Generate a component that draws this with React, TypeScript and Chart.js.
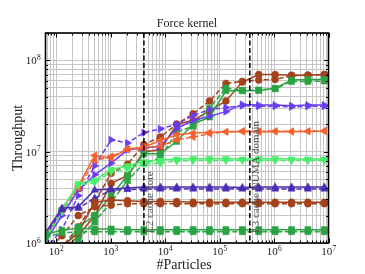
import React, { useEffect, useRef } from "react";
import { Chart, registerables } from "chart.js";
Chart.register(...registerables);

// ---------------- data ----------------
const particles = [64, 128, 256, 512, 1024, 2048, 4096, 8192, 16384, 32768, 65536, 131072, 262144, 524288, 1048576, 2097152, 4194304, 8388608];

const orangeSolid = [1.2e6, 2.4e6, 4.2e6, 9.1e6, 8.5e6, 1.08e7, 1.12e7, 1.33e7, 1.53e7, 1.6e7, 1.63e7, 1.66e7, 1.67e7, 1.66e7, 1.67e7, 1.66e7, 1.67e7, 1.68e7];
const orangeDashed = [1.1e6, 2.2e6, 4.0e6, 8.0e6, 8.9e6, 1.05e7, 1.1e7, 1.15e7, 1.35e7, 1.45e7, 1.58e7, 1.65e7, 1.68e7, 1.67e7, 1.68e7, 1.67e7, 1.68e7, 1.7e7];
const violetSolid = [1.05e6, 2.0e6, 3.8e6, 5.6e6, 7.5e6, 1.05e7, 1.1e7, 1.15e7, 1.8e7, 2.2e7, 2.45e7, 2.75e7, 3.3e7, 3.25e7, 3.25e7, 3.2e7, 3.25e7, 3.25e7];
const violetDashed = [0.85e6, 1.4e6, 3.3e6, 7.0e6, 1.35e7, 1.25e7, 1.62e7, 1.78e7, 2.0e7, 2.5e7, 2.9e7, 3.05e7, 3.2e7, 3.15e7, 3.15e7, 3.1e7, 3.15e7, 3.15e7];
const lightGreenSolid = [1.15e6, 2.3e6, 4.5e6, 4.9e6, 6.4e6, 7.0e6, 7.8e6, 8.1e6, 8.3e6, 8.4e6, 8.4e6, 8.4e6, 8.3e6, 8.4e6, 8.4e6, 8.3e6, 8.3e6, 8.3e6];
const lightGreenDashed = [1.1e6, 2.2e6, 4.3e6, 4.6e6, 6.0e6, 6.5e6, 7.3e6, 7.5e6, 7.9e6, 8.0e6, 8.0e6, 8.0e6, 8.0e6, 8.0e6, 8.0e6, 8.0e6, 8.0e6, 8.0e6];
const indigoSolid = [1.3e6, 2.4e6, 2.5e6, 3.8e6, 3.9e6, 4.0e6, 4.1e6, 4.1e6, 4.1e6, 4.1e6, 4.1e6, 4.1e6, 4.05e6, 4.1e6, 4.1e6, 4.1e6, 4.1e6, 4.1e6];
const indigoDashed = [1.2e6, 2.3e6, 2.4e6, 3.1e6, 3.8e6, 3.85e6, 3.9e6, 3.9e6, 3.9e6, 3.9e6, 3.9e6, 3.9e6, 3.9e6, 3.9e6, 3.9e6, 3.9e6, 3.9e6, 3.9e6];
const brownLowSolid = [0.6e6, 0.9e6, 1.3e6, 2.8e6, 2.95e6, 2.9e6, 2.85e6, 2.85e6, 2.85e6, 2.8e6, 2.8e6, 2.8e6, 2.8e6, 2.8e6, 2.8e6, 2.8e6, 2.8e6, 2.8e6];
const brownLowDashed = [0.8e6, 1.2e6, 2.0e6, 2.5e6, 2.6e6, 2.7e6, 2.7e6, 2.7e6, 2.7e6, 2.7e6, 2.7e6, 2.7e6, 2.7e6, 2.7e6, 2.7e6, 2.7e6, 2.7e6, 2.7e6];
const brownHighSolid = [0.5e6, 0.8e6, 1.2e6, 2.0e6, 4.5e6, 5.5e6, 1.0e7, 1.05e7, 2.0e7, 2.2e7, 2.8e7, 3.6e7, 5.8e7, 7.0e7, 7.0e7, 6.9e7, 6.9e7, 7.0e7];
const brownHighDashed = [0.55e6, 0.9e6, 1.5e6, 2.8e6, 5.8e6, 7.3e6, 1.2e7, 1.45e7, 2.0e7, 2.6e7, 3.6e7, 5.6e7, 5.9e7, 6.1e7, 6.2e7, 6.8e7, 6.9e7, 7.0e7];
const greenHighSolid = [0.55e6, 0.8e6, 1.5e6, 2.0e6, 3.3e6, 5.5e6, 9.5e6, 9.5e6, 1.3e7, 2.0e7, 2.4e7, 4.65e7, 4.65e7, 4.7e7, 4.95e7, 6.1e7, 6.2e7, 6.2e7];
const greenHighDashed = [0.5e6, 0.7e6, 1.1e6, 1.7e6, 2.8e6, 4.8e6, 7.5e6, 8.5e6, 1.65e7, 1.9e7, 3.0e7, 5.0e7, 4.7e7, 4.75e7, 4.9e7, 5.9e7, 5.9e7, 5.95e7];
const greenLowSolid = [1.25e6, 1.38e6, 1.45e6, 1.42e6, 1.42e6, 1.4e6, 1.4e6, 1.4e6, 1.4e6, 1.4e6, 1.4e6, 1.4e6, 1.4e6, 1.4e6, 1.4e6, 1.4e6, 1.4e6, 1.4e6];
const greenLowDashed = [1.15e6, 1.3e6, 1.32e6, 1.33e6, 1.33e6, 1.33e6, 1.33e6, 1.33e6, 1.33e6, 1.33e6, 1.33e6, 1.33e6, 1.33e6, 1.33e6, 1.33e6, 1.33e6, 1.33e6, 1.33e6];

const cacheBoundaries = [4096, 360000];
const cacheLabels = ["L2 cache core", "L3 cache NUMA domain"];

const xMajorTicks = [1e2, 1e3, 1e4, 1e5, 1e6, 1e7];
const xTickExponents = ["2", "3", "4", "5", "6", "7"];
const yMajorTicks = [1e6, 1e7, 1e8];
const yTickExponents = ["6", "7", "8"];

const titleText = "Force kernel";
const xLabel = "#Particles";
const yLabel = "Throughput";

// ---------------- styles ----------------
const COLORS = {
  orange: "#f7612e",
  violet: "#6b3cf2",
  lightGreen: "#45ef6a",
  indigo: "#4a2db5",
  brown: "#a4421c",
  green: "#2aa343",
};

type Spec = { data: number[]; color: string; marker: string; rot: number; dashed: boolean };
const specs: Spec[] = [
  { data: greenLowSolid, color: COLORS.green, marker: "rect", rot: 0, dashed: false },
  { data: greenLowDashed, color: COLORS.green, marker: "rect", rot: 0, dashed: true },
  { data: brownLowSolid, color: COLORS.brown, marker: "circle", rot: 0, dashed: false },
  { data: brownLowDashed, color: COLORS.brown, marker: "circle", rot: 0, dashed: true },
  { data: indigoSolid, color: COLORS.indigo, marker: "triangle", rot: 0, dashed: false },
  { data: indigoDashed, color: COLORS.indigo, marker: "triangle", rot: 0, dashed: true },
  { data: lightGreenSolid, color: COLORS.lightGreen, marker: "triangle", rot: 180, dashed: false },
  { data: lightGreenDashed, color: COLORS.lightGreen, marker: "triangle", rot: 180, dashed: true },
  { data: orangeSolid, color: COLORS.orange, marker: "triangle", rot: 270, dashed: false },
  { data: orangeDashed, color: COLORS.orange, marker: "triangle", rot: 270, dashed: true },
  { data: violetSolid, color: COLORS.violet, marker: "triangle", rot: 90, dashed: false },
  { data: violetDashed, color: COLORS.violet, marker: "triangle", rot: 90, dashed: true },
  { data: greenHighSolid, color: COLORS.green, marker: "rect", rot: 0, dashed: false },
  { data: greenHighDashed, color: COLORS.green, marker: "rect", rot: 0, dashed: true },
  { data: brownHighSolid, color: COLORS.brown, marker: "circle", rot: 0, dashed: false },
  { data: brownHighDashed, color: COLORS.brown, marker: "circle", rot: 0, dashed: true },
];

const SERIF = '"Liberation Serif", "DejaVu Serif", serif';

function logTicks(min: number, max: number): number[] {
  const out: number[] = [];
  for (let e = Math.floor(Math.log10(min)); e <= Math.ceil(Math.log10(max)); e++) {
    for (let m = 1; m <= 9; m++) {
      const v = m * Math.pow(10, e);
      if (v >= min * 0.9999 && v <= max * 1.0001) out.push(v);
    }
  }
  return out;
}
const isPow10 = (v: number) => Math.abs(Math.log10(v) - Math.round(Math.log10(v))) < 1e-9;

function drawPow(ctx: CanvasRenderingContext2D, exp: string, x: number, y: number, align: "right" | "center") {
  ctx.font = `11px ${SERIF}`;
  const w1 = ctx.measureText("10").width;
  ctx.font = `7.5px ${SERIF}`;
  const w2 = ctx.measureText(exp).width;
  const total = w1 + w2;
  const left = align === "right" ? x - total : x - total / 2;
  ctx.textAlign = "left";
  ctx.textBaseline = "alphabetic";
  ctx.font = `11px ${SERIF}`;
  ctx.fillText("10", left, y + 4);
  ctx.font = `7.5px ${SERIF}`;
  ctx.fillText(exp, left + w1 + 0.3, y - 0.5);
}

const decor = {
  id: "decor",
  afterDatasetsDraw(chart: any) {
    const { ctx, chartArea: a, scales } = chart;
    const xs = scales.x;
    const ys = scales.y;
    ctx.save();
    // cache boundary lines
    ctx.strokeStyle = "#000";
    ctx.lineWidth = 1.5;
    ctx.setLineDash([5, 2.5]);
    cacheBoundaries.forEach((b) => {
      const px = xs.getPixelForValue(b);
      ctx.beginPath();
      ctx.moveTo(px, a.top);
      ctx.lineTo(px, a.bottom);
      ctx.stroke();
    });
    ctx.setLineDash([]);
    // annotations
    ctx.fillStyle = "#505050";
    ctx.font = `11px ${SERIF}`;
    ctx.textAlign = "left";
    ctx.textBaseline = "middle";
    cacheBoundaries.forEach((b, i) => {
      const px = xs.getPixelForValue(b) + 6.5;
      ctx.save();
      ctx.translate(px, a.bottom - 10);
      ctx.rotate(-Math.PI / 2);
      ctx.fillText(cacheLabels[i], 0, 0);
      ctx.restore();
    });
    // frame
    ctx.strokeStyle = "#000";
    ctx.lineWidth = 1.6;
    ctx.strokeRect(a.left, a.top, a.right - a.left, a.bottom - a.top);
    // tick marks (inward, all sides)
    ctx.lineWidth = 1;
    xs.ticks.forEach((t: any) => {
      const px = Math.round(xs.getPixelForValue(t.value)) + 0.5;
      const len = isPow10(t.value) ? 4.5 : 2.5;
      ctx.beginPath();
      ctx.moveTo(px, a.bottom);
      ctx.lineTo(px, a.bottom - len);
      ctx.moveTo(px, a.top);
      ctx.lineTo(px, a.top + len);
      ctx.stroke();
    });
    ys.ticks.forEach((t: any) => {
      const py = Math.round(ys.getPixelForValue(t.value)) + 0.5;
      const len = isPow10(t.value) ? 4.5 : 2.5;
      ctx.beginPath();
      ctx.moveTo(a.left, py);
      ctx.lineTo(a.left + len, py);
      ctx.moveTo(a.right, py);
      ctx.lineTo(a.right - len, py);
      ctx.stroke();
    });
    // tick labels
    ctx.fillStyle = "#222";
    xMajorTicks.forEach((v, i) => {
      drawPow(ctx, xTickExponents[i], xs.getPixelForValue(v), a.bottom + 8, "center");
    });
    yMajorTicks.forEach((v, i) => {
      drawPow(ctx, yTickExponents[i], a.left - 5, ys.getPixelForValue(v), "right");
    });
    // titles
    ctx.fillStyle = "#222";
    ctx.textAlign = "center";
    ctx.textBaseline = "middle";
    ctx.font = `12px ${SERIF}`;
    ctx.fillText(titleText, (a.left + a.right) / 2, 24);
    ctx.font = `14px ${SERIF}`;
    ctx.fillText(xLabel, (a.left + a.right) / 2 - 3, 265);
    ctx.save();
    ctx.translate(18, (a.top + a.bottom) / 2);
    ctx.rotate(-Math.PI / 2);
    ctx.fillText(yLabel, 0, 0);
    ctx.restore();
    ctx.restore();
  },
};

export default function App() {
  const ref = useRef<HTMLCanvasElement>(null);
  useEffect(() => {
    const xTickVals = logTicks(64, 1e7);
    const yTickVals = logTicks(1e6, 2e8);
    const chart = new Chart(ref.current!, {
      type: "line",
      data: {
        datasets: specs.map((s) => ({
          data: s.data.map((y, i) => ({ x: particles[i], y })),
          borderColor: s.color,
          backgroundColor: s.color,
          borderWidth: 1.5,
          borderDash: s.dashed ? [5, 2.5] : [],
          pointStyle: s.marker as any,
          pointRotation: s.rot,
          pointRadius: s.marker === "rect" ? 4.3 : s.marker === "circle" ? 3.5 : 4.2,
          pointBorderWidth: 0.5,
          pointBackgroundColor: s.color,
          pointBorderColor: s.color,
          tension: 0,
          fill: false,
        })),
      },
      options: {
        animation: false,
        responsive: false,
        maintainAspectRatio: false,
        events: [],
        layout: { padding: { left: 0, right: 36.5, top: 33, bottom: 0 } },
        plugins: { legend: { display: false }, tooltip: { enabled: false }, title: { display: false } },
        scales: {
          x: {
            type: "logarithmic",
            min: 64,
            max: 1e7,
            afterBuildTicks: (scale: any) => {
              scale.ticks = xTickVals.map((v) => ({ value: v, major: isPow10(v) }));
            },
            afterFit: (scale: any) => {
              scale.height = 31;
            },
            ticks: { display: false, autoSkip: false },
            grid: { color: "#c6c6c6", lineWidth: 1, drawTicks: false },
            border: { display: false },
          },
          y: {
            type: "logarithmic",
            min: 1e6,
            max: 2e8,
            afterBuildTicks: (scale: any) => {
              scale.ticks = yTickVals.map((v) => ({ value: v, major: isPow10(v) }));
            },
            afterFit: (scale: any) => {
              scale.width = 45.5;
            },
            ticks: { display: false, autoSkip: false },
            grid: { color: "#c6c6c6", lineWidth: 1, drawTicks: false },
            border: { display: false },
          },
        },
      },
      plugins: [decor],
    });
    return () => chart.destroy();
  }, []);
  return (
    <div style={{ position: "fixed", left: 0, top: 0, width: 365, height: 274, background: "#fff" }}>
      <canvas ref={ref} width={365} height={274} style={{ display: "block", width: 365, height: 274 }} />
    </div>
  );
}
